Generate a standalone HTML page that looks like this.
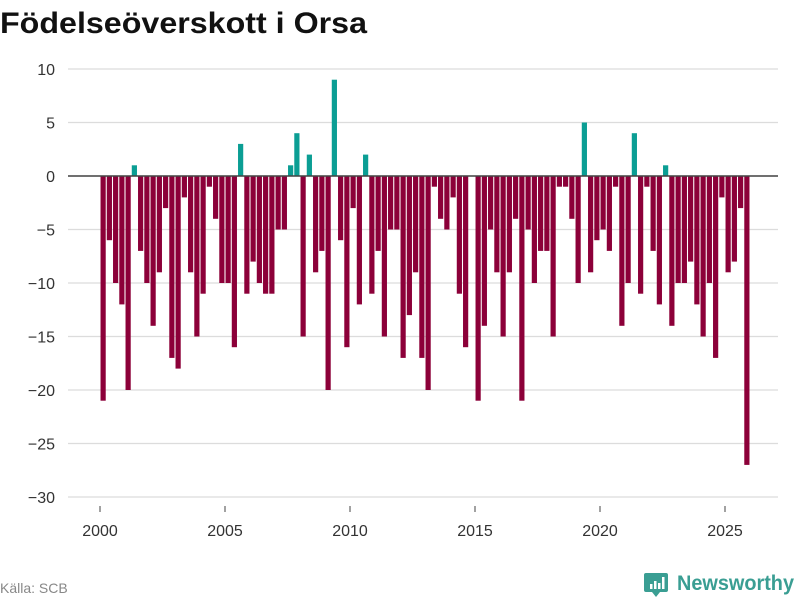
<!DOCTYPE html>
<html><head><meta charset="utf-8"><style>
body{margin:0;background:#fff;}
svg{display:block;font-family:"Liberation Sans","DejaVu Sans",sans-serif;}
</style></head><body>
<svg id="chart" width="800" height="600">
<text x="0" y="33" font-size="30" font-weight="bold" fill="#111" textLength="367" lengthAdjust="spacingAndGlyphs">Födelseöverskott i Orsa</text>
<g id="grid"></g>
<g id="bars"></g>
<g id="axes"></g>
<text x="0" y="593" font-size="14" fill="#888">Källa: SCB</text>
<g>
<path d="M646 573 h20 a2 2 0 0 1 2 2 v15 a2 2 0 0 1 -2 2 h-6 l-4 5 l-4 -5 h-6 a2 2 0 0 1 -2 -2 v-15 a2 2 0 0 1 2 -2z" fill="#3a9e93"/>
<rect x="650" y="584" width="2.5" height="5" fill="#fff"/><rect x="654" y="581" width="2.5" height="8" fill="#fff"/><rect x="658" y="583" width="2.5" height="6" fill="#fff"/><rect x="662" y="577" width="2.5" height="12" fill="#fff"/>
<text x="677" y="590" font-size="21" fill="#3a9e93" font-weight="bold" textLength="117" lengthAdjust="spacingAndGlyphs">Newsworthy</text>
</g>
</svg>
<script>
const startYear = 2000;
const values = [
-21,-6,-10,-12, -20,1,-7,-10, -14,-9,-3,-17, -18,-2,-9,-15,
-11,-1,-4,-10, -10,-16,3,-11, -8,-10,-11,-11, -5,-5,1,4,
-15,2,-9,-7, -20,9,-6,-16, -3,-12,2,-11, -7,-15,-5,-5,
-17,-13,-9,-17, -20,-1,-4,-5, -2,-11,-16,0, -21,-14,-5,-9,
-15,-9,-4,-21, -5,-10,-7,-7, -15,-1,-1,-4, -10,5,-9,-6,
-5,-7,-1,-14, -10,4,-11,-1, -7,-12,1,-14, -10,-10,-8,-12,
-15,-10,-17,-2, -9,-8,-3,-27];
const yTicks = [10,5,0,-5,-10,-15,-20,-25,-30];
const xTicks = [2000,2005,2010,2015,2020,2025];

const NS='http://www.w3.org/2000/svg';
const y = v => 176 - v*10.7;
const x = t => 100 + (t-startYear)*25;
function mk(tag, attrs, parent){const e=document.createElementNS(NS,tag);for(const k in attrs)e.setAttribute(k,attrs[k]);parent.appendChild(e);return e;}
const grid=document.getElementById('grid'), bars=document.getElementById('bars'), axes=document.getElementById('axes');
yTicks.forEach(t=>{
  const l=mk('line',{x1:68,x2:778,y1:y(t),y2:y(t),stroke:'#dcdcdc','stroke-width':1.2},grid);
  
  
  const tx=mk('text',{x:55,y:y(t)+6,'font-size':16,fill:'#333','text-anchor':'end'},axes);
  tx.textContent=String(t).replace('-','−');
  
  
});
values.forEach((v,i)=>{
  const cx=x(startYear+(i+0.5)/4);
  const r=mk('rect',{x:cx-2.6,width:5.2,y:Math.min(y(v),y(0)),height:Math.abs(y(v)-y(0)),fill:v>=0?'#0b9e94':'#8c0039'},bars);
  
  
});
const z=mk('line',{x1:68,x2:778,y1:y(0),y2:y(0),stroke:'#444','stroke-width':1.6},axes);


xTicks.forEach(t=>{
  const tk=mk('line',{x1:x(t),x2:x(t),y1:506,y2:512,stroke:'#444','stroke-width':1},axes);
  
  
  const tx=mk('text',{x:x(t),y:536,'font-size':16,fill:'#333','text-anchor':'middle'},axes);
  tx.textContent=t;
  
  
});
</script>
</body></html>
